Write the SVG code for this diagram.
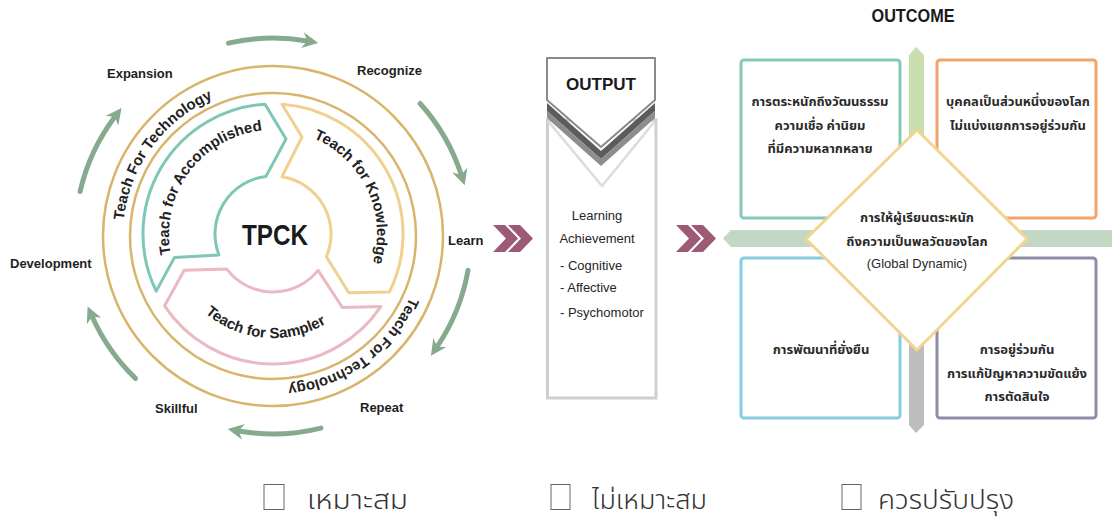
<svg xmlns="http://www.w3.org/2000/svg" width="1112" height="524" viewBox="0 0 1112 524">
<defs>
<style>
.lbl{font-family:"Liberation Sans",Arial,sans-serif;font-size:13px;font-weight:bold;fill:#1e1e1e}
.seg{font-family:"Liberation Sans",Arial,sans-serif;font-size:15px;font-weight:bold;fill:#222}
.ring{fill:none;stroke:#d8b46c;stroke-width:2.5}
.garr{fill:none;stroke:#86aa8e;stroke-width:5;stroke-linecap:round}
.chev{fill:#9c5a74}
.mid{font-family:"Liberation Sans",Arial,sans-serif;font-size:13px;fill:#262626}
.th{font-family:"Noto Sans Thai","Noto Sans Thai Looped","Noto Sans","DejaVu Sans",sans-serif;font-size:13px;font-weight:bold;fill:#2a2a2a;text-anchor:middle}
.box{fill:#fff;stroke-width:3}
.chk{fill:#fff;stroke:#666;stroke-width:1}
.ans{font-family:"Noto Sans Thai","Noto Sans","DejaVu Sans",sans-serif;font-size:27px;font-weight:300;fill:#333}
</style>
<marker id="ah" markerUnits="userSpaceOnUse" markerWidth="16" markerHeight="16" viewBox="0 0 16 16" refX="5" refY="8" orient="auto">
<path d="M0,0 L16,8 L0,16 L5,8 Z" fill="#86aa8e"/>
</marker>
<path id="tpTechA" d="M123.8,220.3 A150,150 0 0 1 270.4,86"/>
<path id="tpTechB" d="M410,297 A150,150 0 0 1 286.1,385.4"/>
<path id="tpAcc" d="M177.6,275.5 A104,104 0 0 1 284.8,130.7"/>
<path id="tpKno" d="M281.2,130.3 A104,104 0 0 1 358.7,292.9"/>
<path id="tpSam" d="M178.7,278 A104,104 0 0 0 358.2,293.7"/>
</defs>
<rect width="1112" height="524" fill="#fff"/>

<g id="tpck-cycle">
<circle class="ring" cx="273" cy="236" r="170"/>
<circle class="ring" cx="273" cy="236" r="143"/>
<text class="seg"><textPath href="#tpTechA">Teach For Technology</textPath></text>
<text class="seg"><textPath href="#tpTechB">Teach For Technology</textPath></text>
</g>

<g id="seg-accomplished">
<path d="M156.2,291.1 A130,130 0 0 1 265,104.2 L286,139 L266,176.4 A58,58 0 0 0 218.9,254.9 L174.5,257.4 Z" fill="#fff" stroke="#7fc6b6" stroke-width="3" stroke-linejoin="round"/>
<text class="seg" text-anchor="middle"><textPath href="#tpAcc" startOffset="50%">Teach for Accomplished</textPath></text>
</g>
<g id="seg-knowledge">
<path d="M282,104.3 A130,130 0 0 1 389.4,292 L348.8,292.8 L326.4,256.7 A58,58 0 0 0 282,176.7 L302,137 Z" fill="#fff" stroke="#f1cf8e" stroke-width="3" stroke-linejoin="round"/>
<text class="seg" text-anchor="middle"><textPath href="#tpKno" startOffset="50%">Teach for Knowledge</textPath></text>
</g>
<g id="seg-sampler">
<path d="M380.8,306.6 A130,130 0 0 1 164.6,305.8 L184.2,270.2 L226.6,268.9 A58,58 0 0 0 318.1,270.4 L342.5,307.6 Z" fill="#fff" stroke="#ebb9c2" stroke-width="3" stroke-linejoin="round"/>
<text class="seg" text-anchor="middle"><textPath href="#tpSam" startOffset="50%">Teach for Sampler</textPath></text>
</g>
<g id="tpck">
<text x="275" y="245" text-anchor="middle" font-family="Liberation Sans,Arial,sans-serif" font-size="30" font-weight="bold" fill="#1a1a1a" textLength="66" lengthAdjust="spacingAndGlyphs">TPCK</text>
</g>

<g id="cycle-labels">
<text class="lbl" x="107" y="78">Expansion</text>
<text class="lbl" x="357" y="75">Recognize</text>
<text class="lbl" x="448" y="245">Learn</text>
<text class="lbl" x="10" y="268">Development</text>
<text class="lbl" x="155" y="413">Skillful</text>
<text class="lbl" x="360" y="412">Repeat</text>
</g>

<g id="connectors">
<path class="garr" marker-end="url(#ah)" d="M228.5,43.1 A198,198 0 0 1 307.4,41"/>
<path class="garr" marker-end="url(#ah)" d="M420.1,103.5 A198,198 0 0 1 461.3,174.8"/>
<path class="garr" marker-end="url(#ah)" d="M468,270.4 A198,198 0 0 1 437.1,346.7"/>
<path class="garr" marker-end="url(#ah)" d="M320.9,428.1 A198,198 0 0 1 238.6,431"/>
<path class="garr" marker-end="url(#ah)" d="M135.5,378.4 A198,198 0 0 1 92.1,316.5"/>
<path class="garr" marker-end="url(#ah)" d="M80.1,191.5 A198,198 0 0 1 114.9,116.8"/>
<polygon class="chev" points="493,225 505,225 518,238.5 505,252 493,252 506,238.5"/>
<polygon class="chev" points="508,225 520,225 533,238.5 520,252 508,252 521,238.5"/>
<polygon class="chev" points="676,225 688,225 701,238.5 688,252 676,252 689,238.5"/>
<polygon class="chev" points="691,225 703,225 716,238.5 703,252 691,252 704,238.5"/>
</g>

<g id="output">
<rect x="547.5" y="120" width="108.5" height="278" fill="#fff" stroke="#cfcfcf" stroke-width="3"/>
<polyline points="548,121 602,186 655,121" fill="none" stroke="#dcdcdc" stroke-width="2.5"/>
<polygon points="547,103 601,151 655,103 655,111 601,159 547,111" fill="#5c5c5c"/>
<polygon points="547,111 601,159 655,111 655,118 601,166 547,118" fill="#8d8d8d"/>
<polygon points="547,58 655,58 655,100 601,147 547,100" fill="#fff" stroke="#8a8a8a" stroke-width="2" stroke-linejoin="round"/>
<text x="601" y="90" text-anchor="middle" font-family="Liberation Sans,Arial,sans-serif" font-size="17" font-weight="bold" fill="#1a1a1a" textLength="70" lengthAdjust="spacingAndGlyphs">OUTPUT</text>
<text class="mid" x="597" y="220" text-anchor="middle">Learning</text>
<text class="mid" x="597" y="243" text-anchor="middle">Achievement</text>
<text class="mid" x="560" y="270">- Cognitive</text>
<text class="mid" x="560" y="292">- Affective</text>
<text class="mid" x="560" y="317">- Psychomotor</text>
</g>

<g id="outcome">
<text x="913" y="22" text-anchor="middle" font-family="Liberation Sans,Arial,sans-serif" font-size="18" font-weight="bold" fill="#1a1a1a" textLength="83" lengthAdjust="spacingAndGlyphs">OUTCOME</text>
<polygon points="723,238.5 731,230 1112,230 1112,247 731,247" fill="#c4d6c4"/>
<polygon points="916,47 924,55 924,240 909,240 909,55" fill="#c9dfae"/>
<polygon points="909,240 924,240 924,425 916,433 909,425" fill="#bdbdbd"/>
</g>
<g id="box-culture">
<rect class="box" x="741" y="60" width="159" height="158" rx="3" stroke="#86c9bb"/>
<text class="th" x="820" y="106">การตระหนักถึงวัฒนธรรม</text>
<text class="th" x="820" y="130">ความเชื่อ ค่านิยม</text>
<text class="th" x="820" y="153">ที่มีความหลากหลาย</text>
</g>
<g id="box-world">
<rect class="box" x="937" y="60" width="159" height="158" rx="3" stroke="#f2a46a"/>
<text class="th" x="1018" y="106">บุคคลเป็นส่วนหนึ่งของโลก</text>
<text class="th" x="1018" y="130">ไม่แบ่งแยกการอยู่ร่วมกัน</text>
</g>
<g id="box-sustain">
<rect class="box" x="741" y="258" width="159" height="160" rx="3" stroke="#86cde0"/>
<text class="th" x="821" y="354">การพัฒนาที่ยั่งยืน</text>
</g>
<g id="box-together">
<rect class="box" x="937" y="258" width="159" height="160" rx="3" stroke="#8e8ca6"/>
<text class="th" x="1017" y="354">การอยู่ร่วมกัน</text>
<text class="th" x="1017" y="378">การแก้ปัญหาความขัดแย้ง</text>
<text class="th" x="1017" y="401">การตัดสินใจ</text>
</g>
<g id="diamond">
<polygon points="917,130 1027,239 917,350 806,239" fill="#fff" stroke="#f2d590" stroke-width="3" stroke-linejoin="round"/>
<text class="th" x="917" y="222">การให้ผู้เรียนตระหนัก</text>
<text class="th" x="917" y="246">ถึงความเป็นพลวัตของโลก</text>
<text x="917" y="268" text-anchor="middle" font-family="Liberation Sans,Arial,sans-serif" font-size="13" fill="#2a2a2a">(Global Dynamic)</text>
</g>

<g id="options">
<rect class="chk" x="264" y="484.5" width="20" height="25"/>
<text class="ans" x="307" y="509" textLength="101" lengthAdjust="spacingAndGlyphs">เหมาะสม</text>
<rect class="chk" x="551" y="484.5" width="19" height="25"/>
<text class="ans" x="592" y="509" textLength="115" lengthAdjust="spacingAndGlyphs">ไม่เหมาะสม</text>
<rect class="chk" x="842" y="484.5" width="19" height="25"/>
<text class="ans" x="878" y="509" textLength="136" lengthAdjust="spacingAndGlyphs">ควรปรับปรุง</text>
</g>
</svg>
